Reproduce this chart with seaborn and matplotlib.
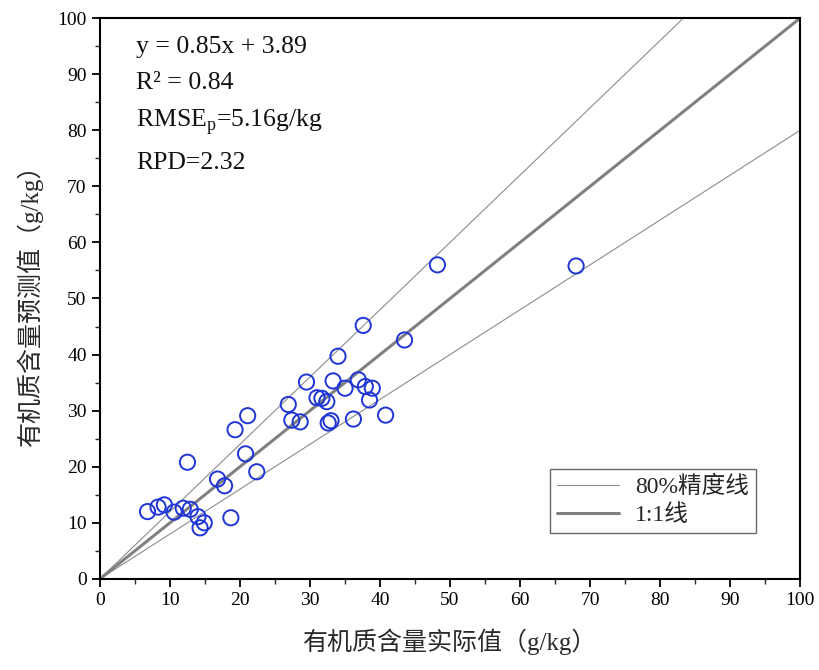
import numpy as np
import pandas as pd
import matplotlib
matplotlib.use("Agg")
import matplotlib.pyplot as plt
from matplotlib.ticker import MultipleLocator
import seaborn as sns

actual = [68.0, 48.2, 37.6, 43.5, 34.0, 29.5, 33.3, 36.9, 35.0, 37.9,
          38.9, 31.0, 31.7, 32.4, 38.5, 40.8, 36.2, 33.0, 32.6, 28.6,
          26.9, 27.4, 21.1, 19.3, 12.5, 20.8, 22.4, 16.8, 17.8, 6.8,
          8.3, 9.2, 10.6, 11.9, 12.9, 14.0, 14.3, 14.9, 18.7]
predicted = [55.8, 56.0, 45.2, 42.6, 39.7, 35.1, 35.3, 35.5, 34.0, 34.3,
             34.0, 32.3, 32.2, 31.6, 31.9, 29.2, 28.5, 28.2, 27.8, 28.0,
             31.1, 28.3, 29.1, 26.6, 20.8, 22.3, 19.1, 17.8, 16.6, 12.0,
             12.8, 13.2, 11.9, 12.6, 12.4, 11.1, 9.1, 10.0, 10.9]

band_ratios = [0.8, 1.2]
ref_x = np.array([0, 100])

stats_text = ["y = 0.85x + 3.89", "R² = 0.84",
              r"RMSE$_\mathrm{p}$=5.16g/kg", "RPD=2.32"]
stats_pos = [0.948, 0.884, 0.815, 0.742]

df = pd.DataFrame({"actual": actual, "predicted": predicted})

sns.set_style("ticks")
plt.rcParams["font.family"] = ["Liberation Serif", "Noto Sans CJK SC"]
plt.rcParams["mathtext.fontset"] = "custom"
plt.rcParams["mathtext.rm"] = "Liberation Serif"
plt.rcParams["axes.unicode_minus"] = False

fig = plt.figure(figsize=(8.19, 6.70), dpi=100)
ax = fig.add_axes([0.122, 0.136, 0.855, 0.837])

for i, r in enumerate(band_ratios):
    ax.plot(ref_x, r * ref_x, color="#8c8c8c", lw=0.8,
            label="80%精度线" if i == 0 else None, zorder=2)
ax.plot(ref_x, ref_x, color="#808080", lw=2.2, label="1:1线", zorder=2)

sns.scatterplot(data=df, x="actual", y="predicted", ax=ax, s=120,
                facecolors="none", edgecolor="#1f35d6", linewidth=1.4,
                zorder=3, legend=False)

ax.set_xlim(0, 100)
ax.set_ylim(0, 100)
ax.xaxis.set_major_locator(MultipleLocator(10))
ax.yaxis.set_major_locator(MultipleLocator(10))
ax.xaxis.set_minor_locator(MultipleLocator(5))
ax.yaxis.set_minor_locator(MultipleLocator(5))
ax.tick_params(which="major", direction="out", length=6, width=1.3,
               labelsize=14, colors="black")
ax.tick_params(which="minor", direction="out", length=3.5, width=1.0)
for s in ax.spines.values():
    s.set_visible(True)
    s.set_linewidth(1.5)
    s.set_color("black")

lab_font = ["Liberation Serif", "Noto Sans CJK SC", "DejaVu Sans"]
ax.set_xlabel("有机质含量实际值（g/kg）", fontsize=18, family=lab_font,
              color="#2a2a2a", labelpad=14)
ax.set_ylabel("有机质含量预测值（g/kg）", fontsize=18, family=lab_font,
              color="#2a2a2a", labelpad=10)

for t, yp in zip(stats_text, stats_pos):
    ax.text(0.052, yp, t, transform=ax.transAxes,
            fontsize=18.5, va="center", ha="left", color="#111111")

leg = ax.legend(loc="lower right", bbox_to_anchor=(0.937, 0.082),
                borderaxespad=0, frameon=True, fancybox=False,
                handlelength=2.6, borderpad=0.3, labelspacing=0.25,
                handletextpad=0.7,
                prop={"family": ["Liberation Serif", "Noto Sans CJK SC"],
                      "size": 17})
leg.get_frame().set_edgecolor("#444444")
leg.get_frame().set_linewidth(1.0)

fig.savefig("out.png", dpi=100)
